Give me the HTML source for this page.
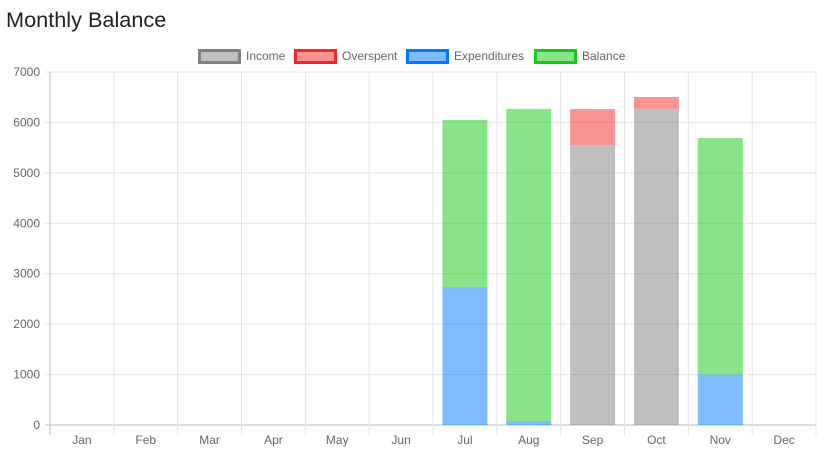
<!DOCTYPE html>
<html><head><meta charset="utf-8"><style>
body{margin:0;background:#fff;font-family:"Liberation Sans",sans-serif;}
svg text{font-family:"Liberation Sans",sans-serif;}
</style></head><body>
<svg id="c" width="824" height="460">
<text x="6" y="27" font-size="21.7" fill="#222">Monthly Balance</text>
<g id="legend"></g>
<g id="grid"></g>
<g id="bars"></g>
<g id="axes"></g>
</svg>
<script>
const categories=["Jan","Feb","Mar","Apr","May","Jun","Jul","Aug","Sep","Oct","Nov","Dec"];
const income=[0,0,0,0,0,0,0,0,5550,6270,0,0];
const overspent=[0,0,0,0,0,0,0,0,715,235,0,0];
const expenditures=[0,0,0,0,0,0,2740,80,0,0,1000,0];
const balance=[0,0,0,0,0,0,3310,6190,0,0,4690,0];
const yTicks=[0,1000,2000,3000,4000,5000,6000,7000];
const seriesNames=["Income","Overspent","Expenditures","Balance"];
const NS="http://www.w3.org/2000/svg";
const L=50,R=816,T=72,B=425,yMax=7000;
const bw=(R-L)/categories.length;
const y=v=>B-(v/yMax)*(B-T);
const x=i=>L+i*bw;
function mk(tag,attrs,parent){const e=document.createElementNS(NS,tag);for(const k in attrs)e.setAttribute(k,attrs[k]);parent.appendChild(e);return e;}
const grid=document.getElementById('grid'),bars=document.getElementById('bars'),axes=document.getElementById('axes'),leg=document.getElementById('legend');
yTicks.forEach(t=>{
 const l=mk('line',{x1:L-5,x2:R,y1:y(t),y2:y(t),stroke:t===0?'#bbb':'#e4e4e4'},grid);
 
 
 const tx=mk('text',{x:L-10,y:y(t)+4,'text-anchor':'end','font-size':12,fill:'#666'},axes);
 tx.textContent=t;
 
 
});
for(let i=0;i<=categories.length;i++){
 const l=mk('line',{x1:x(i),x2:x(i),y1:T,y2:B+10,stroke:i===0?'#bbb':'#e4e4e4'},grid);
 
 
}
categories.forEach((c,i)=>{
 const tx=mk('text',{x:x(i)+bw/2,y:444,'text-anchor':'middle','font-size':12,fill:'#666'},axes);
 tx.textContent=c;
 
 
});
const fills=['rgba(128,128,128,0.5)','rgba(240,40,40,0.5)','rgba(0,120,255,0.5)','rgba(20,200,20,0.5)'];
const strokes=['#808080','#f02828','#0078ff','#14c814'];
const data=[income,overspent,expenditures,balance];
const barW=45;
categories.forEach((c,i)=>{
 let acc=0;
 data.forEach((s,k)=>{
  const v=s[i]; if(!v)return;
  const r=mk('rect',{x:x(i)+(bw-barW)/2,y:y(acc+v),width:barW,height:y(acc)-y(acc+v),fill:fills[k]},bars);
  
  
  acc+=v;
 });
});
const lx=[198,294,406,534];
seriesNames.forEach((n,k)=>{
 const r=mk('rect',{x:lx[k]+1.5,y:50.5,width:40,height:12,fill:fills[k],stroke:strokes[k],'stroke-width':3},leg);
 
 
 const t=mk('text',{x:lx[k]+48,y:60,'font-size':12,fill:'#666'},leg);
 t.textContent=n;
 
 
});
</script>
</body></html>
